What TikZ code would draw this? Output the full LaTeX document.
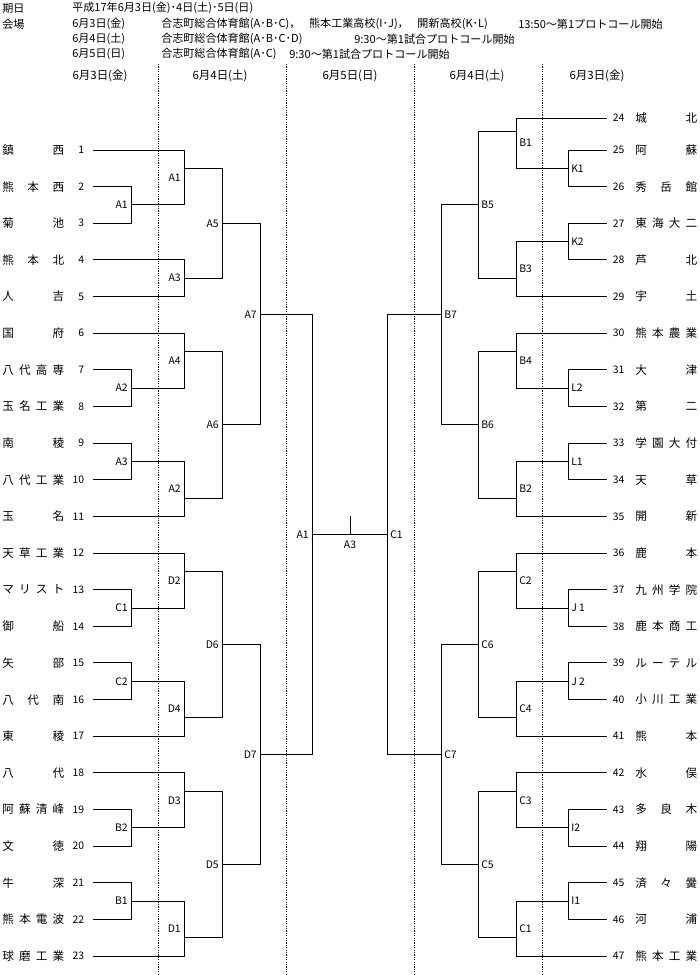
\documentclass[tikz,border=0pt]{standalone}
\usepackage{fontspec}
\setmainfont{Noto Sans CJK JP}
\newcommand\brkL[7]{%
  \coordinate (#1) at (#2,{ry(#3)});
  \draw[bline] (#4) -| (#1) (#5) -| (#1);
  \node[lblL] (#1lbl) at ({#2-3},{ry(#7)}) {#6};}
\newcommand\brkR[7]{%
  \coordinate (#1) at (#2,{ry(#3)});
  \draw[bline] (#4) -| (#1) (#5) -| (#1);
  \node[lblR] (#1lbl) at ({#2+3},{ry(#7)}) {#6};}
\newcommand\teamL[2]{%
  \coordinate (tl#1) at (93,{ry(#1)});
  \node[tnum,anchor=east] (nl#1) at (84.5,{ry(#1)}) {#1};
  \node[tname,anchor=west] (ml#1) at (2,{ry(#1)}) {\hbox to 46.5pt{#2}};}
\newcommand\teamR[3]{%
  \coordinate (tr#1) at (607,{ry(#2)});
  \node[tnum,anchor=west] (nr#1) at (612.5,{ry(#2)}) {#1};
  \node[tname,anchor=west] (mr#1) at (635,{ry(#2)}) {\hbox to 46.5pt{#3}};}
\begin{document}
\begin{tikzpicture}[x=0.75pt,y=-0.75pt,
  declare function={ry(\r)=150+(\r-1)*36.64;},
  bline/.style={line width=0.75pt},
  dotline/.style={line width=0.75pt,dash pattern=on 0.9pt off 0.9pt},
  lblL/.style={anchor=east,inner sep=0pt,font=\fontsize{7.8}{9}\selectfont},
  lblR/.style={anchor=west,inner sep=0pt,font=\fontsize{7.8}{9}\selectfont},
  tnum/.style={inner sep=0pt,font=\fontsize{7.8}{9}\selectfont},
  tname/.style={inner sep=0pt,font=\fontsize{8.7}{10}\selectfont},
  hdr/.style={anchor=west,inner sep=0pt,font=\fontsize{8.3}{10}\selectfont},
  dhdr/.style={anchor=center,inner sep=0pt,font=\fontsize{8.6}{10}\selectfont}]
\useasboundingbox (0,0) rectangle (700,975);
% header
\node[hdr] (h1a) at (2,8) {期日};
\node[hdr] (h1b) at (72,8) {平成17年6月3日(金)･4日(土)･5日(日)};
\node[hdr] (h2a) at (2,24) {会場};
\node[hdr] (h2b) at (72,24) {6月3日(金)};
\node[hdr] (h2c) at (161,24) {\hbox to 245pt{合志町総合体育館(A･B･C)，\hfil 熊本工業高校(I･J)，\hfil 開新高校(K･L)}};
\node[hdr] (h2d) at (518,24) {13:50～第1プロトコール開始};
\node[hdr] (h3b) at (72,39) {6月4日(土)};
\node[hdr] (h3c) at (161,39) {合志町総合体育館(A･B･C･D)};
\node[hdr] (h3d) at (354,39) {9:30～第1試合プロトコール開始};
\node[hdr] (h4b) at (72,54) {6月5日(日)};
\node[hdr] (h4c) at (161,54) {合志町総合体育館(A･C)};
\node[hdr] (h4d) at (289,54) {9:30～第1試合プロトコール開始};
\node[dhdr] (d1) at (100,76) {6月3日(金)};
\node[dhdr] (d2) at (220,76) {6月4日(土)};
\node[dhdr] (d3) at (350,76) {6月5日(日)};
\node[dhdr] (d4) at (477,76) {6月4日(土)};
\node[dhdr] (d5) at (597,76) {6月3日(金)};
% dotted separators
\foreach \xx/\nm in {158/s1,286/s2,414/s3,542/s4}{
  \coordinate (\nm t) at (\xx,64);
  \coordinate (\nm b) at (\xx,975);
  \draw[dotline] (\nm t) -- (\nm b);}
% left teams
\teamL{1}{鎮\hfil 西}
\teamL{2}{熊\hfil 本\hfil 西}
\teamL{3}{菊\hfil 池}
\teamL{4}{熊\hfil 本\hfil 北}
\teamL{5}{人\hfil 吉}
\teamL{6}{国\hfil 府}
\teamL{7}{八\hfil 代\hfil 高\hfil 専}
\teamL{8}{玉\hfil 名\hfil 工\hfil 業}
\teamL{9}{南\hfil 稜}
\teamL{10}{八\hfil 代\hfil 工\hfil 業}
\teamL{11}{玉\hfil 名}
\teamL{12}{天\hfil 草\hfil 工\hfil 業}
\teamL{13}{マ\hfil リ\hfil ス\hfil ト}
\teamL{14}{御\hfil 船}
\teamL{15}{矢\hfil 部}
\teamL{16}{八\hfil 代\hfil 南}
\teamL{17}{東\hfil 稜}
\teamL{18}{八\hfil 代}
\teamL{19}{阿\hfil 蘇\hfil 清\hfil 峰}
\teamL{20}{文\hfil 徳}
\teamL{21}{牛\hfil 深}
\teamL{22}{熊\hfil 本\hfil 電\hfil 波}
\teamL{23}{球\hfil 磨\hfil 工\hfil 業}
% right teams
\teamR{24}{0.13}{城\hfil 北}
\teamR{25}{1}{阿\hfil 蘇}
\teamR{26}{2}{秀\hfil 岳\hfil 館}
\teamR{27}{3}{東\hfil 海\hfil 大\hfil 二}
\teamR{28}{4}{芦\hfil 北}
\teamR{29}{5}{宇\hfil 土}
\teamR{30}{6}{熊\hfil 本\hfil 農\hfil 業}
\teamR{31}{7}{大\hfil 津}
\teamR{32}{8}{第\hfil 二}
\teamR{33}{9}{学\hfil 園\hfil 大\hfil 付}
\teamR{34}{10}{天\hfil 草}
\teamR{35}{11}{開\hfil 新}
\teamR{36}{12}{鹿\hfil 本}
\teamR{37}{13}{九\hfil 州\hfil 学\hfil 院}
\teamR{38}{14}{鹿\hfil 本\hfil 商\hfil 工}
\teamR{39}{15}{ル\hfil ー\hfil テ\hfil ル}
\teamR{40}{16}{小\hfil 川\hfil 工\hfil 業}
\teamR{41}{17}{熊\hfil 本}
\teamR{42}{18}{水\hfil 俣}
\teamR{43}{19}{多\hfil 良\hfil 木}
\teamR{44}{20}{翔\hfil 陽}
\teamR{45}{21}{済\hfil 々\hfil 黌}
\teamR{46}{22}{河\hfil 浦}
\teamR{47}{23}{熊\hfil 本\hfil 工\hfil 業}
% left round 1
\brkL{lA1}{131}{2.5}{tl2}{tl3}{A1}{2.5}
\brkL{lA2}{131}{7.5}{tl7}{tl8}{A2}{7.5}
\brkL{lA3}{131}{9.5}{tl9}{tl10}{A3}{9.5}
\brkL{lC1}{131}{13.5}{tl13}{tl14}{C1}{13.5}
\brkL{lC2}{131}{15.5}{tl15}{tl16}{C2}{15.5}
\brkL{lB2}{131}{19.5}{tl19}{tl20}{B2}{19.5}
\brkL{lB1}{131}{21.5}{tl21}{tl22}{B1}{21.5}
% left round 2
\brkL{mA1}{184}{1.5}{tl1}{lA1}{A1}{1.75}
\brkL{mA3}{184}{4.5}{tl4}{tl5}{A3}{4.5}
\brkL{mA4}{184}{6.5}{tl6}{lA2}{A4}{6.75}
\brkL{mA2}{184}{10.5}{lA3}{tl11}{A2}{10.25}
\brkL{mD2}{184}{12.5}{tl12}{lC1}{D2}{12.75}
\brkL{mD4}{184}{16.5}{lC2}{tl17}{D4}{16.25}
\brkL{mD3}{184}{18.5}{tl18}{lB2}{D3}{18.75}
\brkL{mD1}{184}{22.5}{lB1}{tl23}{D1}{22.25}
% left round 3
\brkL{nA5}{222}{3}{mA1}{mA3}{A5}{3}
\brkL{nA6}{222}{8.5}{mA4}{mA2}{A6}{8.5}
\brkL{nD6}{222}{14.5}{mD2}{mD4}{D6}{14.5}
\brkL{nD5}{222}{20.5}{mD3}{mD1}{D5}{20.5}
% left round 4
\brkL{oA7}{260}{5.5}{nA5}{nA6}{A7}{5.5}
\brkL{oD7}{260}{17.5}{nD6}{nD5}{D7}{17.5}
% left final
\brkL{fA1}{312}{11.5}{oA7}{oD7}{A1}{11.5}
% right round 1
\brkR{rK1}{568}{1.5}{tr25}{tr26}{K1}{1.5}
\brkR{rK2}{568}{3.5}{tr27}{tr28}{K2}{3.5}
\brkR{rL2}{568}{7.5}{tr31}{tr32}{L2}{7.5}
\brkR{rL1}{568}{9.5}{tr33}{tr34}{L1}{9.5}
\brkR{rJ1}{568}{13.5}{tr37}{tr38}{J 1}{13.5}
\brkR{rJ2}{568}{15.5}{tr39}{tr40}{J 2}{15.5}
\brkR{rI2}{568}{19.5}{tr43}{tr44}{I2}{19.5}
\brkR{rI1}{568}{21.5}{tr45}{tr46}{I1}{21.5}
% right round 2
\brkR{sB1}{516}{0.5}{tr24}{rK1}{B1}{0.8}
\brkR{sB3}{516}{4.5}{rK2}{tr29}{B3}{4.25}
\brkR{sB4}{516}{6.5}{tr30}{rL2}{B4}{6.75}
\brkR{sB2}{516}{10.5}{rL1}{tr35}{B2}{10.25}
\brkR{sC2}{516}{12.5}{tr36}{rJ1}{C2}{12.75}
\brkR{sC4}{516}{16.5}{rJ2}{tr41}{C4}{16.25}
\brkR{sC3}{516}{18.5}{tr42}{rI2}{C3}{18.75}
\brkR{sC1}{516}{22.5}{rI1}{tr47}{C1}{22.25}
% right round 3
\brkR{uB5}{478}{2.5}{sB1}{sB3}{B5}{2.5}
\brkR{uB6}{478}{8.5}{sB4}{sB2}{B6}{8.5}
\brkR{uC6}{478}{14.5}{sC2}{sC4}{C6}{14.5}
\brkR{uC5}{478}{20.5}{sC3}{sC1}{C5}{20.5}
% right round 4
\brkR{vB7}{441}{5.5}{uB5}{uB6}{B7}{5.5}
\brkR{vC7}{441}{17.5}{uC6}{uC5}{C7}{17.5}
% right final
\brkR{fC1}{387}{11.5}{vB7}{vC7}{C1}{11.5}
% championship
\draw[bline] (fA1) -- (fC1);
\coordinate (tickT) at (350,516);
\coordinate (tickB) at (350,{ry(11.5)});
\draw[bline] (tickT) -- (tickB);
\node[tnum] (finlbl) at (350,545) {A3};
\end{tikzpicture}
\end{document}
